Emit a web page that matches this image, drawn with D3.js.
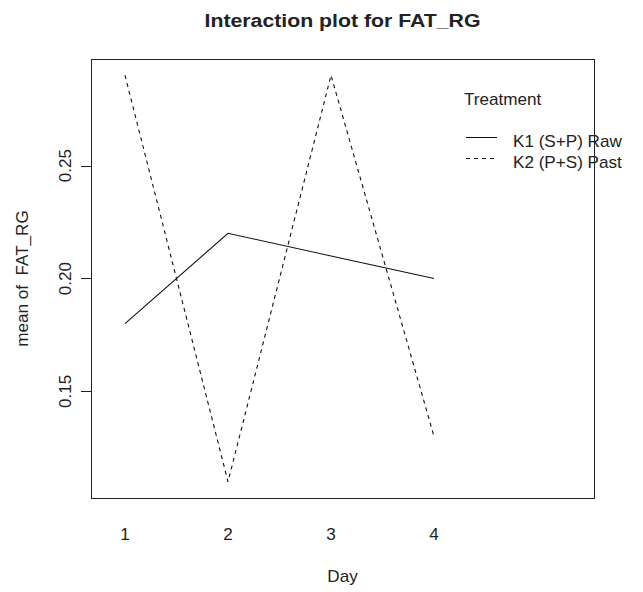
<!DOCTYPE html>
<html><head><meta charset="utf-8">
<script src="https://cdn.jsdelivr.net/npm/d3@7"></script>
<style>body{margin:0;background:#fff}svg{display:block}text{font-family:"Liberation Sans",Arial,sans-serif;fill:#222;white-space:pre}</style>
</head><body>
<script>
const days = [1, 2, 3, 4];
const dayLabels = ["1", "2", "3", "4"];
const seriesNames = ["K1 (S+P) Raw", "K2 (P+S) Past"];
const k1Values = [0.18, 0.22, 0.21, 0.20];
const k2Values = [0.29, 0.11, 0.29, 0.13];
const yTicks = [0.15, 0.20, 0.25];
const title = "Interaction plot for FAT_RG";
const xTitle = "Day";
const yTitle = "mean of  FAT_RG";
const legendTitle = "Treatment";

const W = 643, H = 592;
const box = {l: 91, r: 594, t: 59, b: 498};
const SX = 1.07;
const svg = d3.select("body").append("svg").attr("width", W).attr("height", H);

const x = d3.scaleLinear().domain([0.67, 5.553]).range([box.l, box.r]);
const allV = k1Values.concat(k2Values);
const lo = d3.min(allV), hi = d3.max(allV), pad = (hi - lo) * 0.04;
const y = d3.scaleLinear().domain([lo - pad, hi + pad]).range([box.b, box.t]);

function txt(tx, ty, rot, anchor, size, str, sx, bold) {
  const t = svg.append("text")
    .attr("transform", `translate(${tx},${ty})` + (rot ? ` rotate(${rot})` : "") + ` scale(${sx},1)`)
    .attr("text-anchor", anchor).attr("font-size", size).text(str);
  if (bold) t.attr("font-weight", "bold");
  return t;
}

// box
svg.append("rect").attr("x", box.l + 0.5).attr("y", box.t + 0.5)
  .attr("width", box.r - box.l).attr("height", box.b - box.t)
  .attr("fill", "none").attr("stroke", "#222").attr("stroke-width", 1);

// y axis
yTicks.forEach(v => {
  const yy = Math.round(y(v)) + 0.5;
  svg.append("line").attr("x1", box.l - 10).attr("x2", box.l).attr("y1", yy).attr("y2", yy)
    .attr("stroke", "#222");
  txt(70.5, y(v), -90, "middle", 16, d3.format(".2f")(v), SX);
});

// x labels (no tick marks)
days.forEach((d, i) => txt(x(d), 540, 0, "middle", 16, dayLabels[i], SX));

// titles
txt((box.l + box.r) / 2, 27, 0, "middle", 19, title, 1.12, true);
txt((box.l + box.r) / 2, 582, 0, "middle", 16, xTitle, SX);
txt(28, (box.t + box.b) / 2, -90, "middle", 16, yTitle, SX);

// lines
const line = d3.line().x((d, i) => x(days[i])).y(d => y(d));
const dashes = [null, "4,4"];
[k1Values, k2Values].forEach((vals, s) => {
  svg.append("path").datum(vals).attr("d", line).attr("fill", "none")
    .attr("stroke", "#111").attr("stroke-width", 1.1)
    .attr("stroke-dasharray", dashes[s]);
});

// legend
txt(464, 105, 0, "start", 16, legendTitle, SX);
seriesNames.forEach((n, s) => {
  const ly = 137.5 + s * 21;
  svg.append("line").attr("x1", 466).attr("x2", 497).attr("y1", ly).attr("y2", ly)
    .attr("stroke", "#111").attr("stroke-dasharray", dashes[s]);
  txt(513, ly + 9.5, 0, "start", 16, n, SX);
});
</script>
</body></html>
